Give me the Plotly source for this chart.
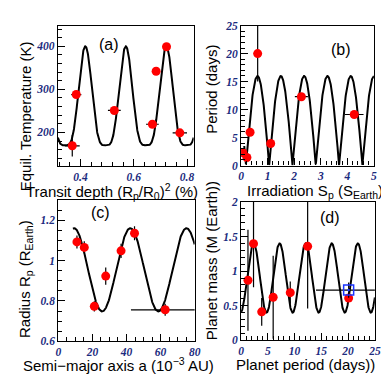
import numpy as np
import plotly.graph_objects as go

W, H = 389, 379

# ---------------- data ----------------
# panel (a)
a_x = [0.369, 0.384, 0.527, 0.670, 0.684, 0.723, 0.773]
a_y = [169, 288, 251, 219, 342, 399, 199]
a_xerr = [0.028, 0.019, 0.024, 0.024, 0, 0, 0.027]
a_yerr = [25, 0, 0, 0, 0, 0, 0]
# fit: low, high, period, peak position, shape exponent, range
a_fit = [170, 400, 0.152, 0.418, 2.0, 0.315, 0.825]

# panel (b)
b_x = [0.07, 0.22, 0.34, 0.625, 1.115, 2.27, 4.26]
b_y = [2.3, 1.44, 5.95, 20.0, 3.93, 12.3, 9.12]
b_xerr = [0, 0, 0, 0, 0, 0.245, 0.35]
b_yerr = [0, 0, 0, 5.0, 0, 0, 0]
b_fit = [0, 16, 0.877, 0.62, 0.5, 0.12, 5.0]

# panel (c)
c_x = [10.9, 15.2, 21.1, 27.8, 36.8, 44.7, 62.7]
c_y = [1.092, 1.065, 0.773, 0.923, 1.048, 1.135, 0.756]
c_xerr = [0, 0, 0, 0, 0, 0, 20.1]
c_yerr = [0.032, 0.03, 0.025, 0.043, 0.035, 0.035, 0.03]
c_fit = [0.748, 1.16, 33.0, 9.2, 1.0, 8.5, 80]

# panel (d)
d_x = [1.29, 2.33, 3.86, 6.0, 9.19, 12.44, 20.1]
d_y = [0.867, 1.396, 0.412, 0.623, 0.689, 1.358, 0.61]
d_yerr = [0.73, 0.63, 0.2, 0.6, 0.16, 0.9, 0]
d_blue_x = [20.1]
d_blue_y = [0.726]
d_blue_xerr = [6.1]
d_blue_yerr = [0.11]
d_fit = [0.4, 1.4, 4.87, 2.33, 1.0, 0.0, 25.0]


def fit_curve(p):
    lo, hi, per, peak, k, x0, x1 = p
    x = np.linspace(x0, x1, 600)
    s = ((1 + np.cos(2 * np.pi * (x - peak) / per)) / 2) ** k
    return x, lo + (hi - lo) * s


def px(v):
    return v / W


def py(v):
    return 1 - v / H


RED = "#ff0000"
TICKCOL = "#1b2b7e"

fig = go.Figure()

panels = [
    ("x", "y", a_x, a_y, a_xerr, a_yerr, a_fit),
    ("x2", "y2", b_x, b_y, b_xerr, b_yerr, b_fit),
    ("x3", "y3", c_x, c_y, c_xerr, c_yerr, c_fit),
    ("x4", "y4", d_x, d_y, [0] * len(d_x), d_yerr, d_fit),
]

for xa, ya, xs, ys, xe, ye, fp in panels:
    cx, cy = fit_curve(fp)
    fig.add_trace(go.Scatter(x=cx, y=cy, mode="lines", xaxis=xa, yaxis=ya,
                             line=dict(color="black", width=2), hoverinfo="skip"))
    fig.add_trace(go.Scatter(
        x=xs, y=ys, mode="markers", xaxis=xa, yaxis=ya,
        marker=dict(color=RED, size=9, line=dict(width=0)),
        error_x=dict(type="data", array=xe, color="black", thickness=1.2, width=0),
        error_y=dict(type="data", array=ye, color="black", thickness=1.2, width=0),
        cliponaxis=True))

fig.add_trace(go.Scatter(
    x=d_blue_x, y=d_blue_y, mode="markers", xaxis="x4", yaxis="y4",
    marker=dict(symbol="square-open-dot", color="#1a35ff", size=10,
                line=dict(width=1.5, color="#1a35ff")),
    error_x=dict(type="data", array=d_blue_xerr, color="black", thickness=1.2, width=0),
    error_y=dict(type="data", array=d_blue_yerr, color="black", thickness=1.2, width=0)))

# axis boxes (pixels)
boxes = {
    "a": (48, 187, 12, 157),
    "b": (235.5, 371.5, 12, 156.5),
    "c": (48.5, 188, 192, 338),
    "d": (235.5, 372.5, 194, 337),
}

TICKFONT = dict(family="Liberation Serif", size=11.5, color=TICKCOL,
                style="italic", weight="bold")


def xaxis(box, rng, dtick, tick0, minor, anchor):
    x0, x1, _, _ = boxes[box]
    return dict(domain=[px(x0), px(x1)], range=rng, anchor=anchor,
                showgrid=False, zeroline=False, showline=True, mirror=True,
                linecolor="black", linewidth=1.2,
                ticks="inside", ticklen=7, tickcolor="black", tickwidth=1,
                dtick=dtick, tick0=tick0,
                minor=dict(ticks="inside", ticklen=4, dtick=minor, tick0=tick0,
                           tickcolor="black", tickwidth=1, showgrid=False),
                tickfont=TICKFONT)


def yaxis(box, rng, dtick, tick0, minor, anchor):
    _, _, y0, y1 = boxes[box]
    return dict(domain=[py(y1), py(y0)], range=rng, anchor=anchor,
                showgrid=False, zeroline=False, showline=True, mirror=True,
                linecolor="black", linewidth=1.2,
                ticks="inside", ticklen=7, tickcolor="black", tickwidth=1,
                dtick=dtick, tick0=tick0,
                minor=dict(ticks="inside", ticklen=4, dtick=minor, tick0=tick0,
                           tickcolor="black", tickwidth=1, showgrid=False),
                tickfont=TICKFONT)


fig.update_layout(
    width=W, height=H, margin=dict(l=0, r=0, t=0, b=0),
    paper_bgcolor="white", plot_bgcolor="white", showlegend=False,
    xaxis=xaxis("a", [0.315, 0.825], 0.2, 0.4, 0.04, "y"),
    yaxis=yaxis("a", [122, 448], 100, 0, 20, "x"),
    xaxis2=xaxis("b", [0, 5], 1, 0, 0.2, "y2"),
    yaxis2=yaxis("b", [0, 25], 5, 0, 1, "x2"),
    xaxis3=xaxis("c", [0, 80], 20, 0, 5, "y3"),
    yaxis3=yaxis("c", [0.6, 1.3], 0.2, 0, 0.05, "x3"),
    xaxis4=xaxis("d", [0, 25], 5, 0, 1, "y4"),
    yaxis4=yaxis("d", [0, 2], 0.5, 0, 0.1, "x4"),
)

TF = dict(family="Liberation Sans", size=15, color="black")


def ann(text, x, y, angle=0, size=15):
    fig.add_annotation(text=text, x=px(x), y=py(y), xref="paper", yref="paper",
                       showarrow=False, textangle=angle, xanchor="center",
                       yanchor="middle", font=dict(TF, size=size))


ann("Transit depth (R<sub>p</sub>/R<sub>0</sub>)<sup>2</sup> (%)", 103, 183)
ann("Equil. Temperature (K)", 15, 106, -90)
ann("Irradiation S<sub>p</sub> (S<sub>Earth</sub>)", 311, 183)
ann("Period (days)", 205, 78, -90)
ann("Semi\u2212major axis a (10<sup>\u22123</sup> AU)", 110, 362)
ann("Radius R<sub>p</sub> (R<sub>Earth</sub>)", 15, 274, -90)
ann("Planet period (days))", 301, 362)
ann("Planet mass (M (Earth))", 206, 255, -90)

ann("(a)", 100, 32, size=16)
ann("(b)", 338, 37, size=16)
ann("(c)", 92, 205, size=16)
ann("(d)", 327, 210, size=16)

fig.write_html("out.html")
